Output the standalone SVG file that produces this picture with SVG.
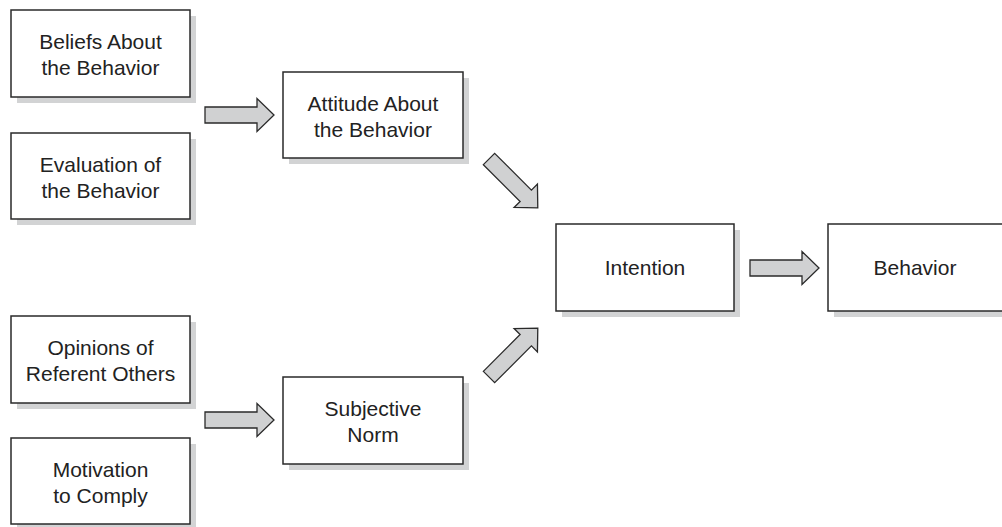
<svg xmlns="http://www.w3.org/2000/svg" width="1002" height="527" viewBox="0 0 1002 527">
<defs>
<style>
.box{fill:#fff;stroke:#2a2a2a;stroke-width:1.5}
.sh{fill:#d2d3d4}
.t{font-family:"Liberation Sans",Arial,sans-serif;font-size:21px;fill:#222;text-anchor:middle}
.arr{fill:#d0d1d2;stroke:#2a2a2a;stroke-width:1.3;stroke-linejoin:miter}
</style>
<path id="blk" d="M0,-8 L52,-8 L52,-16.5 L69,0 L52,16.5 L52,8 L0,8 Z"/>
</defs>
<rect width="1002" height="527" fill="#fff"/>
<g id="beliefs">
<rect class="sh" x="17" y="16" width="179" height="87"/>
<rect class="box" x="11" y="10" width="179" height="87"/>
<text class="t" x="100.5" y="49">Beliefs About</text>
<text class="t" x="100.5" y="75">the Behavior</text>
</g>
<g id="evaluation">
<rect class="sh" x="17" y="139" width="179" height="86"/>
<rect class="box" x="11" y="133" width="179" height="86"/>
<text class="t" x="100.5" y="172">Evaluation of</text>
<text class="t" x="100.5" y="198">the Behavior</text>
</g>
<g id="attitude">
<rect class="sh" x="289" y="78" width="180" height="86"/>
<rect class="box" x="283" y="72" width="180" height="86"/>
<text class="t" x="373" y="111">Attitude About</text>
<text class="t" x="373" y="137">the Behavior</text>
</g>
<g id="opinions">
<rect class="sh" x="17" y="322" width="179" height="87"/>
<rect class="box" x="11" y="316" width="179" height="87"/>
<text class="t" x="100.5" y="355">Opinions of</text>
<text class="t" x="100.5" y="381">Referent Others</text>
</g>
<g id="motivation">
<rect class="sh" x="17" y="444" width="179" height="86"/>
<rect class="box" x="11" y="438" width="179" height="86"/>
<text class="t" x="100.5" y="477">Motivation</text>
<text class="t" x="100.5" y="503">to Comply</text>
</g>
<g id="subjective">
<rect class="sh" x="289" y="383" width="180" height="87"/>
<rect class="box" x="283" y="377" width="180" height="87"/>
<text class="t" x="373" y="416">Subjective</text>
<text class="t" x="373" y="442">Norm</text>
</g>
<g id="intention">
<rect class="sh" x="562" y="230" width="178" height="87"/>
<rect class="box" x="556" y="224" width="178" height="87"/>
<text class="t" x="645" y="275">Intention</text>
</g>
<g id="behavior">
<rect class="sh" x="834" y="230" width="178" height="87"/>
<rect class="box" x="828" y="224" width="178" height="87"/>
<text class="t" x="915" y="275">Behavior</text>
</g>
<g id="connectors">
<use href="#blk" class="arr" transform="translate(205,115)"/>
<use href="#blk" class="arr" transform="translate(205,420)"/>
<use href="#blk" class="arr" transform="translate(489,159) rotate(45)"/>
<use href="#blk" class="arr" transform="translate(489,377) rotate(-45)"/>
<use href="#blk" class="arr" transform="translate(750,268)"/>
</g>
</svg>
